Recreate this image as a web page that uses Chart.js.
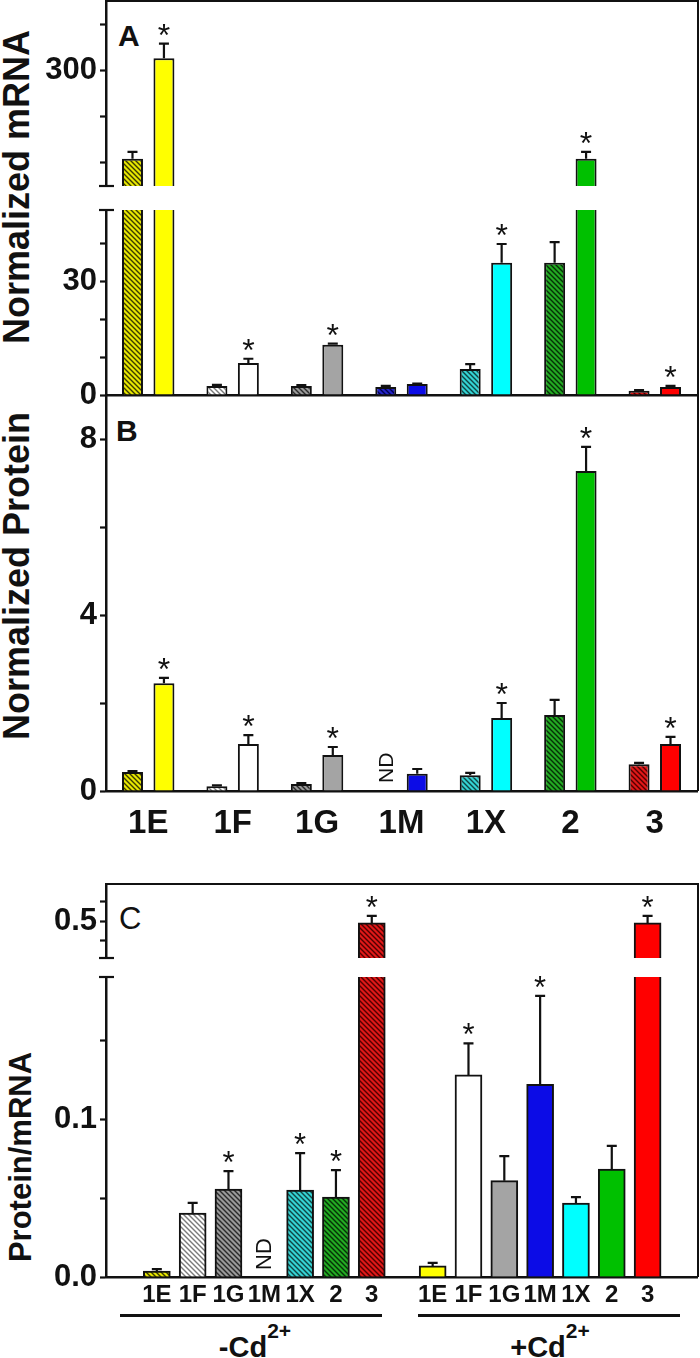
<!DOCTYPE html>
<html><head><meta charset="utf-8">
<script src="https://cdn.jsdelivr.net/npm/chart.js@4.4.1/dist/chart.umd.min.js"></script>
<style>
body{margin:0;background:#fff;}
#wrap{position:relative;width:700px;height:1358px;overflow:hidden;background:#fff;font-family:"Liberation Sans",Arial,sans-serif;color:#111;}
#wrap canvas{position:absolute;left:0;}
.t{position:absolute;white-space:nowrap;line-height:1;color:#111;}
.rot{transform:translate(-50%,-50%) rotate(-90deg);font-weight:bold;}
.frame{position:absolute;box-sizing:border-box;border-top:2.5px solid #111;border-right:2.5px solid #111;}
.gline{position:absolute;height:3px;background:#111;}
.sup{position:relative;top:-19px;font-size:21px;}
</style></head>
<body><div id="wrap">
<div class="frame" style="left:106px;top:0px;width:593px;height:791px;"></div>
<div class="frame" style="left:106px;top:883px;width:593px;height:394px;"></div>
<div class="t" style="left:118px;top:21px;font-size:30px;font-weight:bold;">A</div>
<div class="t" style="left:116px;top:416px;font-size:30px;font-weight:bold;">B</div>
<div class="t" style="left:119px;top:903px;font-size:31px;">C</div>
<div class="t rot" style="left:17px;top:187px;font-size:36px;">Normalized mRNA</div>
<div class="t rot" style="left:17px;top:576px;font-size:36px;">Normalized Protein</div>
<div class="t rot" style="left:20px;top:1157px;font-size:31px;">Protein/mRNA</div>
<div class="gline" style="left:120px;top:1314px;width:262px;"></div>
<div class="gline" style="left:418px;top:1314px;width:262px;"></div>
<div class="t" id="g0" style="left:255px;top:1333px;font-size:29px;font-weight:bold;transform:translateX(-50%);"></div>
<div class="t" id="g1" style="left:550px;top:1333px;font-size:29px;font-weight:bold;transform:translateX(-50%);"></div>
</div>
<script>
// ---------------- data ----------------
const categories = ['1E','1F','1G','1M','1X','2','3'];
const groupNames = ['-Cd', '+Cd'];
const groupSup = '2+';

// Panel A: normalized mRNA (hatched = no Cd, solid = +Cd)
const mrnaNoCd     = [109, 2.4, 2.4, 2.1, 6.9, 35, 1.1];
const mrnaNoCdErr  = [124, 2.7, 2.6, 2.4, 8.2, 40.5, 1.3];
const mrnaCd       = [326, 8.5, 13.3, 2.9, 35, 109, 2.1];
const mrnaCdErr    = [358, 9.6, 13.6, 3.0, 40, 124, 2.4];
const mrnaCdStar   = [1, 1, 1, 0, 1, 1, 1];

// Panel B: normalized protein
const protNoCd     = [0.43, 0.11, 0.16, null, 0.36, 1.73, 0.61];
const protNoCdErr  = [0.45, 0.13, 0.18, null, 0.41, 2.07, 0.64];
const protCd       = [2.45, 1.07, 0.82, 0.39, 1.66, 7.27, 1.07];
const protCdErr    = [2.57, 1.27, 1.00, 0.50, 2.00, 7.82, 1.23];
const protCdStar   = [1, 1, 1, 0, 1, 1, 1];

// Panel C: protein / mRNA
const ratioNoCd     = [0.0038, 0.0405, 0.0557, null, 0.055, 0.0506, 0.495];
const ratioNoCdErr  = [0.005, 0.047, 0.067, null, 0.0785, 0.0677, 0.513];
const ratioNoCdStar = [0, 0, 1, 0, 1, 1, 1];
const ratioCd       = [0.007, 0.128, 0.061, 0.122, 0.0468, 0.0684, 0.495];
const ratioCdErr    = [0.009, 0.148, 0.0766, 0.178, 0.0506, 0.083, 0.513];
const ratioCdStar   = [0, 1, 0, 1, 0, 0, 1];

// axis ticks
const mrnaTopTicks = [100, 200, 300, 400];   const mrnaTopTickLabels = ['', '', '300', ''];
const mrnaLowTicks = [0, 10, 20, 30, 40];    const mrnaLowTickLabels = ['0', '', '', '30', ''];
const protTicks    = [0, 2, 4, 6, 8];        const protTickLabels    = ['0', '', '4', '', '8'];
const ratioTopTicks = [0.45, 0.5, 0.55];     const ratioTopTickLabels = ['', '0.5', ''];
const ratioLowTicks = [0, 0.05, 0.1, 0.15];  const ratioLowTickLabels = ['0.0', '', '0.1', ''];

// ---------------- styles ----------------
function hatch(bg, line){
  const n = 5, c = document.createElement('canvas'); c.width = n; c.height = n;
  const g = c.getContext('2d'); g.fillStyle = bg; g.fillRect(0,0,n,n);
  g.strokeStyle = line; g.lineWidth = 1.4; g.beginPath();
  g.moveTo(-n,0); g.lineTo(n,2*n); g.moveTo(0,0); g.lineTo(n,n); g.moveTo(0,-n); g.lineTo(2*n,n);
  g.stroke();
  return g.createPattern(c, 'repeat');
}
const solidColors = ['#ffff00','#ffffff','#a4a4a4','#0c0ce6','#00ffff','#00c000','#ff0000'];
const hatchColors = [
  hatch('#e6e600','#3a3a00'), hatch('#ffffff','#7a7a7a'), hatch('#9a9a9a','#2a2a2a'),
  hatch('#2424c8','#000050'), hatch('#34d4d4','#104444'), hatch('#22aa22','#063006'), hatch('#e01818','#500000')
];
const INK = '#111';
const TICKFONT = {family:'Liberation Sans', weight:'bold', size:31};

document.getElementById('g0').innerHTML = groupNames[0] + '<span class="sup">' + groupSup + '</span>';
document.getElementById('g1').innerHTML = groupNames[1] + '<span class="sup">' + groupSup + '</span>';

// ---------------- annotation plugin (error bars, stars, ND, axis breaks) ----------------
const annot = {
  id: 'annot',
  afterDatasetsDraw(chart, args, o){
    const ctx = chart.ctx, ys = chart.scales.y, ca = chart.chartArea;
    ctx.save();
    ctx.strokeStyle = INK; ctx.fillStyle = INK; ctx.lineWidth = 2.2;
    (o.errs || []).forEach(s => {
      const meta = chart.getDatasetMeta(s.ds);
      s.val.forEach((v, i) => {
        if (v == null) return;
        const e = s.err[i];
        const topVal = e != null ? e : v;
        if (topVal < ys.min || topVal > ys.max) return;
        const x = meta.data[i].x;
        const y1 = ys.getPixelForValue(topVal);
        if (e != null && e > v){
          const y0 = ys.getPixelForValue(Math.max(v, ys.min));
          ctx.beginPath(); ctx.moveTo(x, y0); ctx.lineTo(x, y1);
          ctx.moveTo(x - 5, y1); ctx.lineTo(x + 5, y1); ctx.stroke();
        }
        if (s.star && s.star[i]){
          ctx.font = o.starFont || '32px "Liberation Sans"';
          ctx.textAlign = 'center'; ctx.textBaseline = 'alphabetic';
          const m = ctx.measureText('*');
          const cy = y1 - 14;
          ctx.fillText('*', x, cy + (m.actualBoundingBoxAscent - m.actualBoundingBoxDescent) / 2);
        }
      });
    });
    (o.nd || []).forEach(n => {
      const meta = chart.getDatasetMeta(n.ds);
      const x = meta.data[n.i].x;
      ctx.save();
      ctx.translate(x, ca.bottom - n.gap);
      ctx.rotate(-Math.PI / 2);
      ctx.font = n.font; ctx.textAlign = 'left'; ctx.textBaseline = 'middle';
      ctx.fillText('ND', 0, 1);
      ctx.restore();
    });
    ctx.lineWidth = 2.2;
    if (o.capTop){ ctx.beginPath(); ctx.moveTo(ca.left - 7, ca.top); ctx.lineTo(ca.left + 8, ca.top); ctx.stroke(); }
    if (o.capBottom){ ctx.beginPath(); ctx.moveTo(ca.left - 7, ca.bottom); ctx.lineTo(ca.left + 8, ca.bottom); ctx.stroke(); }
    ctx.restore();
  }
};
Chart.register(annot);

// ---------------- layout helpers ----------------
const wrap = document.getElementById('wrap');
const PADT = 26, PADB = 22, LEFTW = 106, RIGHTPAD = 3;

function place(top, bottom, xh, config){
  const c = document.createElement('canvas');
  const h = Math.round(bottom - top + PADT + PADB + xh);
  c.width = 700; c.height = h;
  c.style.width = '700px'; c.style.height = h + 'px'; c.style.top = (top - PADT) + 'px';
  wrap.appendChild(c);
  config.options.responsive = false;
  config.options.animation = false;
  config.options.devicePixelRatio = 1;
  config.options.layout = {padding:{top:PADT, bottom:PADB, left:0, right:RIGHTPAD}};
  config.options.plugins = Object.assign({legend:{display:false}, tooltip:{enabled:false}}, config.options.plugins || {});
  return new Chart(c, config);
}

function yScale(min, max, ticks, labels){
  return {
    type:'linear', min, max,
    afterFit: s => { s.width = LEFTW; },
    afterBuildTicks: s => { s.ticks = ticks.map(v => ({value:v})); },
    ticks:{autoSkip:false, padding:3, color:INK, font:TICKFONT, callback:(v, i) => labels[i]},
    grid:{drawOnChartArea:false, drawTicks:true, tickLength:6, tickWidth:2.2, tickColor:INK},
    border:{display:true, color:INK, width:2.5}
  };
}
function xCat(showLabels, showBorder, xh){
  return {
    type:'category', labels:categories, offset:true,
    afterFit: s => { s.height = xh; },
    ticks:{display:showLabels, padding:13, color:INK, autoSkip:false, maxRotation:0,
           font:{family:'Liberation Sans', weight:'bold', size:33}},
    grid:{display:false, drawTicks:false},
    border:{display:showBorder, color:INK, width:2.5}
  };
}
function catDatasets(noCd, cd){
  const common = {borderColor:INK, borderWidth:2, borderSkipped:'start', categoryPercentage:0.745, barPercentage:0.667, clip:0};
  return [
    Object.assign({data:noCd, backgroundColor:hatchColors}, common),
    Object.assign({data:cd, backgroundColor:solidColors}, common)
  ];
}

// ---------------- Panel A (broken axis) ----------------
const aErrs = [
  {ds:0, val:mrnaNoCd, err:mrnaNoCdErr},
  {ds:1, val:mrnaCd, err:mrnaCdErr, star:mrnaCdStar}
];
place(1, 186, 0, {
  type:'bar',
  data:{labels:categories, datasets:catDatasets(mrnaNoCd, mrnaCd)},
  options:{
    scales:{x:xCat(false, false, 0), y:yScale(50, 450, mrnaTopTicks, mrnaTopTickLabels)},
    plugins:{annot:{errs:aErrs, capBottom:true}}
  }
});
place(210, 395, 0, {
  type:'bar',
  data:{labels:categories, datasets:catDatasets(mrnaNoCd, mrnaCd)},
  options:{
    scales:{x:xCat(false, true, 0), y:yScale(0, 49, mrnaLowTicks, mrnaLowTickLabels)},
    plugins:{annot:{errs:aErrs, capTop:true}}
  }
});

// ---------------- Panel B ----------------
place(395, 791, 50, {
  type:'bar',
  data:{labels:categories, datasets:catDatasets(protNoCd, protCd)},
  options:{
    scales:{x:xCat(true, true, 50), y:yScale(0, 9, protTicks, protTickLabels)},
    plugins:{annot:{
      errs:[{ds:0, val:protNoCd, err:protNoCdErr}, {ds:1, val:protCd, err:protCdErr, star:protCdStar}],
      nd:protNoCd.map((v, i) => v == null ? {ds:0, i, gap:8, font:'21px "Liberation Sans"'} : null).filter(Boolean)
    }}
  }
});

// ---------------- Panel C (broken axis, two groups) ----------------
const GROUP_GAP = 7.7;
const ratioX = categories.map((c, i) => i).concat(categories.map((c, i) => i + GROUP_GAP));
const ratioVals = ratioNoCd.concat(ratioCd);
const ratioErrs = ratioNoCdErr.concat(ratioCdErr);
const ratioStars = ratioNoCdStar.concat(ratioCdStar);
function cDataset(){
  return [{
    data: ratioX.map((x, k) => ({x, y: ratioVals[k]})),
    backgroundColor: hatchColors.concat(solidColors),
    borderColor:INK, borderWidth:2, borderSkipped:'start', barThickness:27, clip:0
  }];
}
function xLin(showLabels, showBorder, xh){
  return {
    type:'linear', min:-0.83, max:14.49,
    afterFit: s => { s.height = xh; },
    afterBuildTicks: s => { s.ticks = ratioX.map(v => ({value:v})); },
    ticks:{display:showLabels, padding:4, color:INK, autoSkip:false, maxRotation:0,
           font:{family:'Liberation Sans', weight:'bold', size:24},
           callback:(v, i) => categories[i % categories.length]},
    grid:{display:false, drawTicks:false},
    border:{display:showBorder, color:INK, width:2.5}
  };
}
const cErrs = [{ds:0, val:ratioVals, err:ratioErrs, star:ratioStars}];
place(884, 958, 0, {
  type:'bar',
  data:{datasets:cDataset()},
  options:{
    scales:{x:xLin(false, false, 0), y:yScale(0.405, 0.595, ratioTopTicks, ratioTopTickLabels)},
    plugins:{annot:{errs:cErrs, capBottom:true, starFont:'31px "Liberation Sans"'}}
  }
});
place(977, 1277, 32, {
  type:'bar',
  data:{datasets:cDataset()},
  options:{
    scales:{x:xLin(true, true, 32), y:yScale(0, 0.19, ratioLowTicks, ratioLowTickLabels)},
    plugins:{annot:{
      errs:cErrs, capTop:true, starFont:'31px "Liberation Sans"',
      nd:ratioVals.map((v, i) => v == null ? {ds:0, i, gap:7, font:'22px "Liberation Sans"'} : null).filter(Boolean)
    }}
  }
});
</script>
</body></html>
